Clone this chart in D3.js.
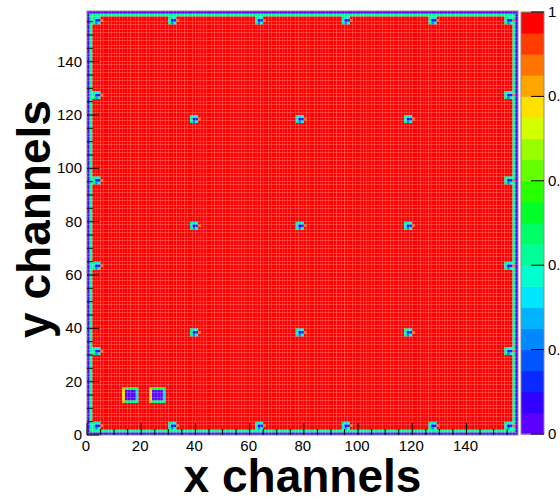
<!DOCTYPE html>
<html><head><meta charset="utf-8">
<script src="https://cdn.jsdelivr.net/npm/d3@7"></script>
<style>html,body{margin:0;padding:0;background:#fff;}svg{display:block;}</style>
</head><body>
<svg id="chart" width="560" height="499"></svg>
<script>
// ---------------- data ----------------
const nBins = 159;                         // channels 0..158 on both axes
const backgroundValue = 0.99;              // almost every pixel
const edgeRingValues = [0.02, 0.44];       // outermost ring, second ring
const edgeMarkerPos = [3, 31, 63, 95, 127, 155];   // markers along the four edges
const innerMarkerX = [39, 78, 118];
const innerMarkerY = [38, 78, 118];
// 3x3 marker pattern, rows from top (y+1) to bottom (y-1), cols x-1..x+1
const markerPattern = [
  [0.46, 0.33, 0.38],
  [0.31, 0.07, 0.14],
  [0.46, 0.21, 0.36]
];
const markerRightValue = 0.86;             // orange cell right of the marker centre
const padX0 = [13, 23];                    // two large 6x6 pads, left column
const padY0 = 12;                          // bottom row of pads
const padInnerValue = 0.02;
const padRing = {left: 0.78, right: 0.33, top: 0.5, bottom: 0.47, tl: 0.82, bl: 0.8, tr: 0.52, br: 0.42};
const xTicks = [0, 20, 40, 60, 80, 100, 120, 140];
const yTicks = [0, 20, 40, 60, 80, 100, 120, 140];
const zTicks = [0, 0.2, 0.4, 0.6, 0.8, 1];
const zTickLabels = ["0", "0.2", "0.4", "0.6", "0.8", "1"];
const palette = ["#5a00ff","#3300ff","#0a28ff","#0055ff","#0088ff","#00b4ff","#00e6ff","#00ffcc","#00ff99","#00ff66",
                 "#00ff2a","#2aff00","#66ff00","#99ff00","#d4ff00","#ffe100","#ffa500","#ff7300","#ff3c00","#ff0000"];
const xTitle = "x channels", yTitle = "y channels";

// ---------------- build the matrix ----------------
const grid = [];
for (let x = 0; x < nBins; x++) { grid.push(new Array(nBins).fill(backgroundValue)); }
function setv(x, y, v) { if (x >= 0 && x < nBins && y >= 0 && y < nBins) grid[x][y] = v; }
function putMarker(cx, cy) {
  for (let r = 0; r < 3; r++) for (let c = 0; c < 3; c++) setv(cx - 1 + c, cy + 1 - r, markerPattern[r][c]);
  setv(cx + 2, cy, markerRightValue);
}
edgeRingValues.forEach((v, k) => {
  for (let i = k; i < nBins - k; i++) { setv(i, k, v); setv(i, nBins - 1 - k, v); setv(k, i, v); setv(nBins - 1 - k, i, v); }
});
edgeMarkerPos.forEach(p => { putMarker(p, 3); putMarker(p, 155); putMarker(3, p); putMarker(155, p); });
innerMarkerX.forEach(x => innerMarkerY.forEach(y => putMarker(x, y)));
padX0.forEach(x0 => {
  for (let i = 0; i < 6; i++) for (let j = 0; j < 6; j++) {
    let v = padInnerValue;
    const L = i === 0, R = i === 5, B = j === 0, T = j === 5;
    if (L && T) v = padRing.tl; else if (L && B) v = padRing.bl; else if (R && T) v = padRing.tr; else if (R && B) v = padRing.br;
    else if (L) v = padRing.left; else if (R) v = padRing.right; else if (T) v = padRing.top; else if (B) v = padRing.bottom;
    setv(x0 + i, padY0 + j, v);
  }
});
const cells = [];
for (let x = 0; x < nBins; x++) for (let y = 0; y < nBins; y++) cells.push({x, y, v: grid[x][y]});

// ---------------- drawing ----------------
const svg = d3.select("#chart");
const L = 87, R = 518, T = 11, B = 435;
const x = d3.scaleLinear().domain([0, nBins]).range([L, R]);
const y = d3.scaleLinear().domain([0, nBins]).range([B, T]);
const color = d3.scaleQuantize().domain([0, 1]).range(palette);
const font = "'Liberation Sans', Arial, Helvetica, sans-serif";

svg.append("g").selectAll("rect").data(cells).join("rect")
  .attr("x", d => x(d.x)).attr("y", d => y(d.y + 1))
  .attr("width", x(1) - x(0)).attr("height", y(0) - y(1))
  .attr("fill", d => color(d.v));

svg.append("rect").attr("x", L).attr("y", T).attr("width", R - L).attr("height", B - T)
  .attr("fill", "none").attr("stroke", "#8a8a8a").attr("stroke-width", 1);

// axes with inward ticks
const xMinor = d3.range(0, nBins, 5).filter(v => v % 20 !== 0);
const yMinor = xMinor;
const ax = svg.append("g").attr("stroke", "#000").attr("stroke-width", 1);
ax.selectAll(".xM").data(xTicks).join("line").attr("x1", d => x(d)).attr("x2", d => x(d)).attr("y1", B).attr("y2", B - 12);
ax.selectAll(".xm").data(xMinor).join("line").attr("x1", d => x(d)).attr("x2", d => x(d)).attr("y1", B).attr("y2", B - 6);
ax.selectAll(".yM").data(yTicks).join("line").attr("y1", d => y(d)).attr("y2", d => y(d)).attr("x1", L).attr("x2", L + 12);
ax.selectAll(".ym").data(yMinor).join("line").attr("y1", d => y(d)).attr("y2", d => y(d)).attr("x1", L).attr("x2", L + 6);

svg.append("g").selectAll("text").data(xTicks).join("text")
  .attr("x", d => x(d) - 1).attr("y", 451).attr("text-anchor", "middle")
  .attr("font-family", font).attr("font-size", 15).text(d => d);
svg.append("g").selectAll("text").data(yTicks).join("text")
  .attr("x", 82).attr("y", d => y(d) + 5).attr("text-anchor", "end")
  .attr("font-family", font).attr("font-size", 15).text(d => d);

svg.append("text").attr("x", (L + R) / 2).attr("y", 492).attr("text-anchor", "middle")
  .attr("font-family", font).attr("font-weight", "bold").attr("font-size", 46).text(xTitle);
svg.append("text").attr("transform", `translate(50,${(T + B) / 2 - 4}) rotate(-90)`).attr("text-anchor", "middle")
  .attr("font-family", font).attr("font-weight", "bold").attr("font-size", 46).text(yTitle);

// colour bar
const cL = 521, cR = 544;
const z = d3.scaleLinear().domain([0, 1]).range([B - 1, T + 1]);
const levels = d3.range(palette.length).map(i => ({lo: i / palette.length, hi: (i + 1) / palette.length, c: palette[i]}));
svg.append("g").selectAll("rect").data(levels).join("rect")
  .attr("x", cL).attr("width", cR - cL).attr("y", d => z(d.hi)).attr("height", d => z(d.lo) - z(d.hi) + 0.5)
  .attr("fill", d => d.c);
svg.append("rect").attr("x", cL).attr("y", z(1)).attr("width", cR - cL).attr("height", z(0) - z(1))
  .attr("fill", "none").attr("stroke", "#8a8a8a");
svg.append("g").selectAll("line").data(zTicks).join("line")
  .attr("x1", cR).attr("x2", cR - 13).attr("y1", d => z(d)).attr("y2", d => z(d)).attr("stroke", "#000");
svg.append("g").selectAll("text").data(zTicks).join("text")
  .attr("x", 548).attr("y", d => z(d) + 5).attr("font-family", font).attr("font-size", 15)
  .text((d, i) => zTickLabels[i]);
</script>
</body></html>
